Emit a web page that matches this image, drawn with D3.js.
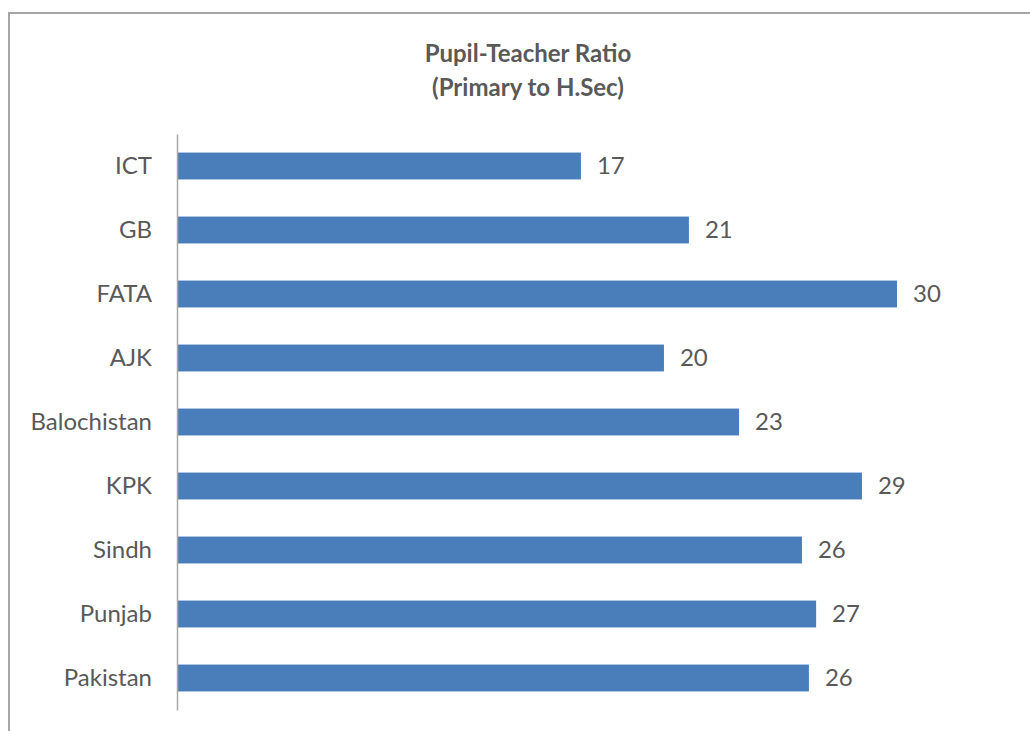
<!DOCTYPE html>
<html>
<head>
<meta charset="utf-8">
<script src="https://cdn.jsdelivr.net/npm/d3@7"></script>
<style>
  html, body { margin: 0; padding: 0; background: #fff; }
  svg { display: block; }
</style>
</head>
<body>
<svg id="chart" width="1030" height="731"></svg>
<script>
const categories = ["ICT", "GB", "FATA", "AJK", "Balochistan", "KPK", "Sindh", "Punjab", "Pakistan"];
const values = [16.83, 21.33, 30.0, 20.29, 23.42, 28.54, 26.04, 26.63, 26.33];
const valueLabels = ["17", "21", "30", "20", "23", "29", "26", "27", "26"];
const titleLines = ["Pupil-Teacher Ratio", "(Primary to H.Sec)"];

const svg = d3.select("#chart");
const font = "Lato, 'Open Sans', sans-serif";
const textColor = "#595959";

// frame
svg.append("path")
  .attr("d", "M9,731 L9,13 L1030,13")
  .attr("fill", "none")
  .attr("stroke", "#a6a6a6")
  .attr("stroke-width", 2);

const x = d3.scaleLinear().domain([0, 30]).range([177, 897]);
const y = d3.scaleBand().domain(categories).range([134, 710]).paddingInner(0.58).paddingOuter(0.29);

// bars
svg.append("g").selectAll("rect")
  .data(categories)
  .join("rect")
  .attr("x", x(0))
  .attr("y", d => y(d))
  .attr("width", (d, i) => x(values[i]) - x(0))
  .attr("height", y.bandwidth())
  .attr("fill", "#4a7ebb");

// y axis
const yAxis = d3.axisLeft(y).tickSize(0).tickPadding(25);
const gy = svg.append("g").attr("transform", `translate(${x(0)},0)`).call(yAxis);
gy.select(".domain").attr("stroke", "#a6a6a6").attr("stroke-width", 1.5);
gy.selectAll("text")
  .attr("font-family", font)
  .attr("font-size", 24)
  .attr("fill", textColor);

// value labels
svg.append("g").selectAll("text")
  .data(categories)
  .join("text")
  .attr("x", (d, i) => x(values[i]) + 16)
  .attr("y", d => y(d) + y.bandwidth() / 2)
  .attr("dy", "0.35em")
  .attr("font-family", font)
  .attr("font-size", 24)
  .attr("fill", textColor)
  .text((d, i) => valueLabels[i]);

// title
svg.append("g").selectAll("text")
  .data(titleLines)
  .join("text")
  .attr("x", 528)
  .attr("y", (d, i) => 62 + i * 34)
  .attr("text-anchor", "middle")
  .attr("font-family", font)
  .attr("font-weight", "bold")
  .attr("font-size", 24)
  .attr("fill", textColor)
  .text(d => d);
</script>
</body>
</html>
